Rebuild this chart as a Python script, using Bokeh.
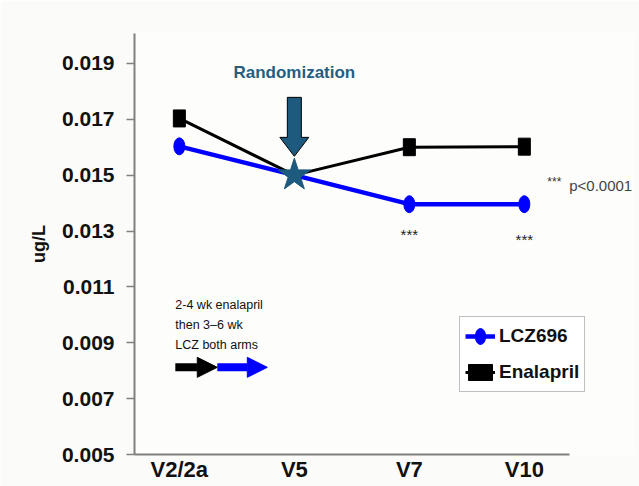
from bokeh.plotting import figure
from bokeh.models import Range1d, FixedTicker, Legend, LegendItem, Label, Arrow, NormalHead, NumeralTickFormatter
from bokeh.embed import file_html
from bokeh.resources import INLINE

# ---- data ----
categories = ["V2/2a", "V5", "V7", "V10"]
lcz696 = [0.01603, 0.01500, 0.01396, 0.01396]
enalapril = [0.01703, 0.01500, 0.01600, 0.01602]
y_ticks = [0.005, 0.007, 0.009, 0.011, 0.013, 0.015, 0.017, 0.019]
rand_idx = 1
sig_idx = [2, 3]

FONT = "Liberation Sans"
TEAL = "#1d5a7e"
BLUE = "#0000ff"

x = list(range(len(categories)))

p = figure(width=639, height=486, output_backend="svg", toolbar_location=None,
           x_range=Range1d(-0.39, 3.958), y_range=Range1d(0.005, 0.02007),
           min_border_left=134, min_border_right=5, min_border_top=33, min_border_bottom=32)
p.border_fill_color = "#fbfbf9"
p.background_fill_color = "#fdfdfc"
p.outline_line_color = None
p.xgrid.visible = False
p.ygrid.visible = False

# axes
p.xaxis.bounds = (-0.39, 3.39)
p.xaxis.ticker = FixedTicker(ticks=x)
p.xaxis.major_label_overrides = {i: c for i, c in zip(x, categories)}
p.xaxis.major_tick_line_color = None
p.xaxis.major_tick_out = 0
p.xaxis.major_tick_in = 0
p.xaxis.minor_tick_line_color = None
p.xaxis.minor_tick_out = 0
p.xaxis.major_label_standoff = 2
p.xaxis.major_label_text_font = FONT
p.xaxis.major_label_text_font_style = "bold"
p.xaxis.major_label_text_font_size = "22px"
p.xaxis.major_label_text_color = "#111111"
p.xaxis.axis_line_color = "#808080"
p.xaxis.axis_line_width = 2

p.yaxis.ticker = FixedTicker(ticks=y_ticks)
p.yaxis.formatter = NumeralTickFormatter(format="0.000")
p.yaxis.minor_tick_line_color = None
p.yaxis.major_tick_in = 0
p.yaxis.major_tick_out = 8
p.yaxis.major_tick_line_color = "#808080"
p.yaxis.major_tick_line_width = 1.5
p.yaxis.major_label_standoff = 12
p.yaxis.major_label_text_font = FONT
p.yaxis.major_label_text_font_style = "bold"
p.yaxis.major_label_text_font_size = "21px"
p.yaxis.major_label_text_color = "#111111"
p.yaxis.axis_line_color = "#808080"
p.yaxis.axis_line_width = 2
p.yaxis.axis_label = "ug/L"
p.yaxis.axis_label_text_font = FONT
p.yaxis.axis_label_text_font_style = "bold"
p.yaxis.axis_label_text_font_size = "18px"
p.yaxis.axis_label_text_color = "#111111"
p.yaxis.axis_label_standoff = 10

# series
mx = [i for i in x if i != rand_idx]
el = p.line(x, enalapril, line_color="black", line_width=3)
em = p.rect([x[i] for i in mx], [enalapril[i] for i in mx], width=12, height=17,
            width_units="screen", height_units="screen", fill_color="black", line_color="black")
bl = p.line(x, lcz696, line_color=BLUE, line_width=4.5)
bm = p.ellipse([x[i] for i in mx], [lcz696[i] for i in mx], width=11, height=17,
               width_units="screen", height_units="screen", fill_color=BLUE, line_color=BLUE)
p.scatter([x[rand_idx]], [lcz696[rand_idx]], marker="star", size=34,
          fill_color=TEAL, line_color=TEAL)

# randomization arrow (block arrow above V5)
top, base, tip = 0.017784, 0.016352, 0.015673
sw, hw = 0.061, 0.126
rx = x[rand_idx]
p.patch([rx - sw, rx + sw, rx + sw, rx + hw, rx, rx - hw, rx - sw],
        [top, top, base, base, tip, base, base],
        fill_color=TEAL, line_color="black", line_width=1)
p.add_layout(Label(x=rx, y=0.01868, text="Randomization", text_font=FONT,
                   text_font_style="bold", text_font_size="17px", text_color="#235f82",
                   text_align="center", text_baseline="middle"))

# washout note + arrows
for yy, t in zip([0.01034, 0.009626, 0.008910], ["2-4 wk enalapril", "then 3\u20136 wk", "LCZ both arms"]):
    p.add_layout(Label(x=-0.035, y=yy, text=t, text_font=FONT, text_font_size="12.5px",
                       text_color="#111111", text_align="left", text_baseline="middle"))
p.add_layout(Arrow(x_start=-0.035, y_start=0.00812, x_end=0.33, y_end=0.00812,
                   line_color="black", line_width=8,
                   end=NormalHead(size=20, fill_color="black", line_color="black")))
p.add_layout(Arrow(x_start=0.33, y_start=0.00812, x_end=0.765, y_end=0.00812,
                   line_color=BLUE, line_width=8,
                   end=NormalHead(size=20, fill_color=BLUE, line_color=BLUE)))

# significance marks
for i, dy in zip(sig_idx, [0.0, -0.00018]):
    p.add_layout(Label(x=x[i], y=lcz696[i] - 0.00108 + dy, text="***", text_font=FONT,
                       text_font_size="15px", text_color="#222222", text_align="center",
                       text_baseline="middle"))
p.add_layout(Label(x=3.2, y=0.01475, text="***", text_font=FONT, text_font_size="12px",
                   text_color="#333333", text_align="left", text_baseline="middle"))
p.add_layout(Label(x=3.39, y=0.01462, text="p<0.0001", text_font=FONT, text_font_size="15px",
                   text_color="#444444", text_align="left", text_baseline="middle", x_offset=0))

legend = Legend(items=[LegendItem(label="LCZ696", renderers=[bl, bm]),
                       LegendItem(label="Enalapril", renderers=[el, em])],
                location=(325, 62))
legend.label_text_font = FONT
legend.label_text_font_style = "bold"
legend.label_text_font_size = "19px"
legend.label_text_color = "#111111"
legend.glyph_width = 30
legend.glyph_height = 20
legend.label_height = 28
legend.label_standoff = 4
legend.spacing = 8
legend.padding = 5
legend.margin = 0
legend.border_line_color = "#808080"
legend.border_line_width = 1.5
legend.background_fill_color = "white"
legend.background_fill_alpha = 1
p.add_layout(legend)

open("out.html", "w").write(file_html(p, INLINE))
